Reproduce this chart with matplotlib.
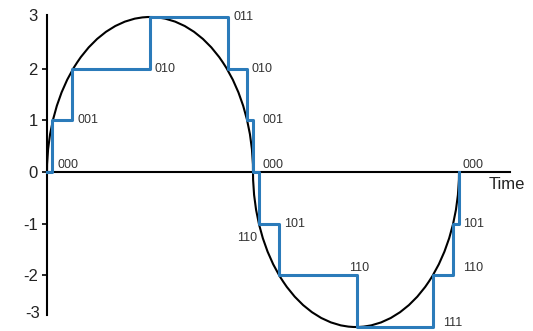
import matplotlib
matplotlib.use('Agg')
import matplotlib.pyplot as plt
from matplotlib.patches import Arc

plt.rcParams['font.family'] = ['Liberation Sans', 'DejaVu Sans']

# quantised staircase (time in half-periods, level)
step_t = [0.0, 0.024, 0.121, 0.5, 0.879, 0.971, 1.0, 1.029, 1.126, 1.505, 1.874, 1.971, 2.0]
step_v = [0, 1, 2, 3, 2, 1, 0, -1, -2, -3, -2, -1, 0]

# bit code labels: x, y, text
code_x = [0.053, 0.150, 0.524, 0.903, 0.995, 1.044, 1.044, 1.150, 0.922, 1.466, 1.922, 2.019, 2.019, 2.015]
code_y = [0.135, 1.0, 2.0, 3.0, 2.0, 1.0, 0.135, -1.0, -1.28, -1.86, -2.92, -1.86, -1.0, 0.135]
codes = ['000', '001', '010', '011', '010', '001', '000', '101', '110', '110', '111', '110', '101', '000']

yticks = [2, 1, 0, -1, -2]

fig = plt.figure(figsize=(5.33, 3.31), dpi=100)
ax = fig.add_axes([0, 0, 1, 1])
ax.set_xlim(-0.2282, 2.3592)
ax.set_ylim(-3.077, 3.329)

# analog signal (two half ellipses)
ax.add_patch(Arc((0.5, 0), 1.0, 6.0, theta1=0, theta2=180, color='black', lw=1.5, zorder=2))
ax.add_patch(Arc((1.5, 0), 1.0, 6.0, theta1=180, theta2=360, color='black', lw=1.5, zorder=2))

ax.step(step_t, step_v, where='post', color='#2b7bba', lw=2.2, zorder=3)

for x, y, s in zip(code_x, code_y, codes):
    ax.text(x, y, s, fontsize=9, color='#333333', ha='left', va='center')

for s in ['top', 'right']:
    ax.spines[s].set_visible(False)
ax.spines['left'].set_position(('data', 0))
ax.spines['bottom'].set_position(('data', 0))
ax.spines['left'].set_bounds(-2.77, 3.04)
ax.spines['bottom'].set_bounds(0, 2.248)
ax.spines['left'].set_linewidth(1.5)
ax.spines['bottom'].set_linewidth(1.5)

ax.set_yticks(yticks)
ax.set_yticklabels([str(v) for v in yticks])
ax.tick_params(axis='y', direction='out', length=3.6, width=1.2, pad=3,
               labelsize=12, labelcolor='#222222')
ax.set_xticks([])
ax.text(-0.044, 3.0, '3', fontsize=12, color='#222222', ha='right', va='center')
ax.text(-0.034, -2.73, '-3', fontsize=12, color='#222222', ha='right', va='center')
ax.text(2.143, -0.25, 'Time', fontsize=12, color='#222222', ha='left', va='center')

fig.savefig('out.png', dpi=100)
